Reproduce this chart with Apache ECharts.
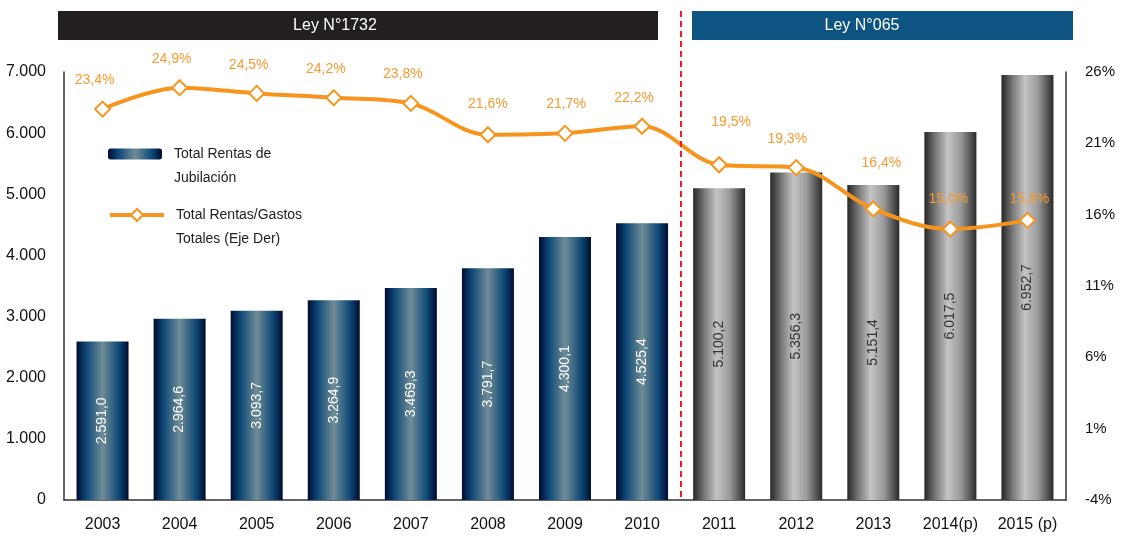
<!DOCTYPE html>
<html>
<head>
<meta charset="utf-8">
<script src="https://cdn.jsdelivr.net/npm/echarts@6/dist/echarts.min.js"></script>
<style>
  html, body { margin: 0; padding: 0; background: #fff; }
  #chart { width: 1121px; height: 539px; }
</style>
</head>
<body>
<div id="chart"></div>
<script>
// Años del período
const years = ['2003', '2004', '2005', '2006', '2007', '2008', '2009', '2010', '2011', '2012', '2013', '2014(p)', '2015 (p)'];
// Total Rentas de Jubilación (millones)
const rentas = [2591.0, 2964.6, 3093.7, 3264.9, 3469.3, 3791.7, 4300.1, 4525.4, 5100.2, 5356.3, 5151.4, 6017.5, 6952.7];
// Total Rentas / Gastos Totales (%)
const ratio = [23.4, 24.9, 24.5, 24.2, 23.8, 21.6, 21.7, 22.2, 19.5, 19.3, 16.4, 15.0, 15.6];
// Años bajo la Ley N°1732 (el resto bajo la Ley N°065)
const ley1732Count = 8;

const BAR_NAME = 'Total Rentas de\nJubilación';
const LINE_NAME = 'Total Rentas/Gastos\nTotales (Eje Der)';

const FONT = "'Liberation Sans', Arial, sans-serif";

// Hand placement of the percentage labels: [horizontal shift, gap above marker]
const ratioLabelNudge = [
  [-8, 13], [-8, 13], [-8, 13], [-8, 13], [-8, 14], [0, 15], [1, 14],
  [-8, 13], [12, 27], [-9, 13], [8, 30], [-2, 14], [2, 6]
];

const blueGrad = new echarts.graphic.LinearGradient(0, 0, 1, 0, [
  { offset: 0, color: '#020a2e' },
  { offset: 0.18, color: '#0b4676' },
  { offset: 0.5, color: '#6f8c97' },
  { offset: 0.82, color: '#0c4776' },
  { offset: 1, color: '#020a2e' }
]);
const greyGrad = new echarts.graphic.LinearGradient(0, 0, 1, 0, [
  { offset: 0, color: '#262626' },
  { offset: 0.22, color: '#7a7a7a' },
  { offset: 0.45, color: '#c4c4c4' },
  { offset: 0.7, color: '#9a9a9a' },
  { offset: 1, color: '#2a2a2a' }
]);

function fmtNum(v, dec) {
  const parts = v.toFixed(dec).split('.');
  parts[0] = parts[0].replace(/\B(?=(\d{3})+(?!\d))/g, '.');
  return parts.join(',');
}

const barData = rentas.map((v, i) => {
  if (i < ley1732Count) {
    return { value: v, label: { color: '#ffffff' } };
  }
  return { value: v, itemStyle: { color: greyGrad }, label: { color: '#333333' } };
});

const lineData = ratio.map((v, i) => ({
  value: v,
  label: { distance: ratioLabelNudge[i][1], offset: [ratioLabelNudge[i][0], 0] }
}));

// Legend text: a blank first line keeps the icon level with the first text line
const legendText = {
  fontFamily: FONT, fontSize: 14, color: '#222', lineHeight: 24,
  rich: { t: { fontFamily: FONT, fontSize: 14, color: '#222', lineHeight: 24, padding: [0, 0, 0, 7] } }
};
const legendFormatter = name => [' '].concat(name.split('\n')).map(s => '{t|' + s + '}').join('\n');

const chart = echarts.init(document.getElementById('chart'));

const option = {
  animation: false,
  backgroundColor: '#ffffff',
  textStyle: { fontFamily: FONT },
  grid: { left: 64, right: 55, top: 72, bottom: 39 },
  legend: [
    {
      left: 103,
      top: 113,
      itemWidth: 54,
      itemHeight: 11,
      textStyle: legendText,
      formatter: legendFormatter,
      data: [{ name: BAR_NAME }]
    },
    {
      left: 103,
      top: 174,
      itemWidth: 54,
      itemHeight: 15,
      lineStyle: { width: 4 },
      textStyle: legendText,
      formatter: legendFormatter,
      data: [{ name: LINE_NAME }]
    }
  ],
  xAxis: {
    type: 'category',
    data: years,
    axisLine: { show: true, lineStyle: { color: '#333', width: 1.5 } },
    axisTick: { show: false },
    axisLabel: { color: '#111', fontSize: 16, fontFamily: FONT, margin: 17, interval: 0 }
  },
  yAxis: [
    {
      type: 'value',
      min: 0,
      max: 7000,
      interval: 1000,
      splitLine: { show: false },
      axisLine: { show: true, lineStyle: { color: '#333', width: 1.5 } },
      axisTick: { show: false },
      axisLabel: {
        color: '#111', fontSize: 16, fontFamily: FONT, margin: 18,
        formatter: v => fmtNum(v, 0)
      }
    },
    {
      type: 'value',
      min: -4,
      max: 26,
      interval: 5,
      splitLine: { show: false },
      axisLine: { show: true, lineStyle: { color: '#333', width: 1.5 } },
      axisTick: { show: false },
      axisLabel: {
        color: '#111', fontSize: 15, fontFamily: FONT, margin: 19,
        formatter: v => v + '%'
      }
    }
  ],
  series: [
    {
      name: BAR_NAME,
      type: 'bar',
      barWidth: 52,
      itemStyle: { color: blueGrad },
      data: barData,
      label: {
        show: true,
        position: 'inside',
        rotate: 90,
        fontFamily: FONT,
        fontSize: 14,
        formatter: p => fmtNum(p.value, 1)
      }
    },
    {
      name: LINE_NAME,
      type: 'line',
      yAxisIndex: 1,
      smooth: 0.35,
      data: lineData,
      z: 5,
      lineStyle: { color: '#f7941d', width: 4 },
      itemStyle: { color: '#ffffff', borderColor: '#f7941d', borderWidth: 2 },
      symbol: 'diamond',
      symbolSize: 15,
      label: {
        show: true,
        position: 'top',
        distance: 13,
        color: '#f79a30',
        fontSize: 14,
        fontFamily: FONT,
        formatter: p => p.value.toFixed(1).replace('.', ',') + '%'
      }
    }
  ],
  graphic: [
    {
      type: 'rect',
      shape: { x: 58, y: 11, width: 600, height: 29 },
      style: { fill: '#231f20' }
    },
    {
      type: 'text',
      x: 335, y: 25.5,
      style: { text: 'Ley N°1732', fill: '#ffffff', font: '16px ' + FONT, align: 'center', verticalAlign: 'middle' }
    },
    {
      type: 'rect',
      shape: { x: 692, y: 11, width: 381, height: 29 },
      style: { fill: '#0e5482' }
    },
    {
      type: 'text',
      x: 862, y: 25.5,
      style: { text: 'Ley N°065', fill: '#ffffff', font: '16px ' + FONT, align: 'center', verticalAlign: 'middle' }
    },
    {
      type: 'line',
      z: 10,
      shape: { x1: 681, y1: 11, x2: 681, y2: 499 },
      style: { stroke: '#ee1c25', lineWidth: 2, lineDash: [6, 4] }
    }
  ]
};

chart.setOption(option);
</script>
</body>
</html>
